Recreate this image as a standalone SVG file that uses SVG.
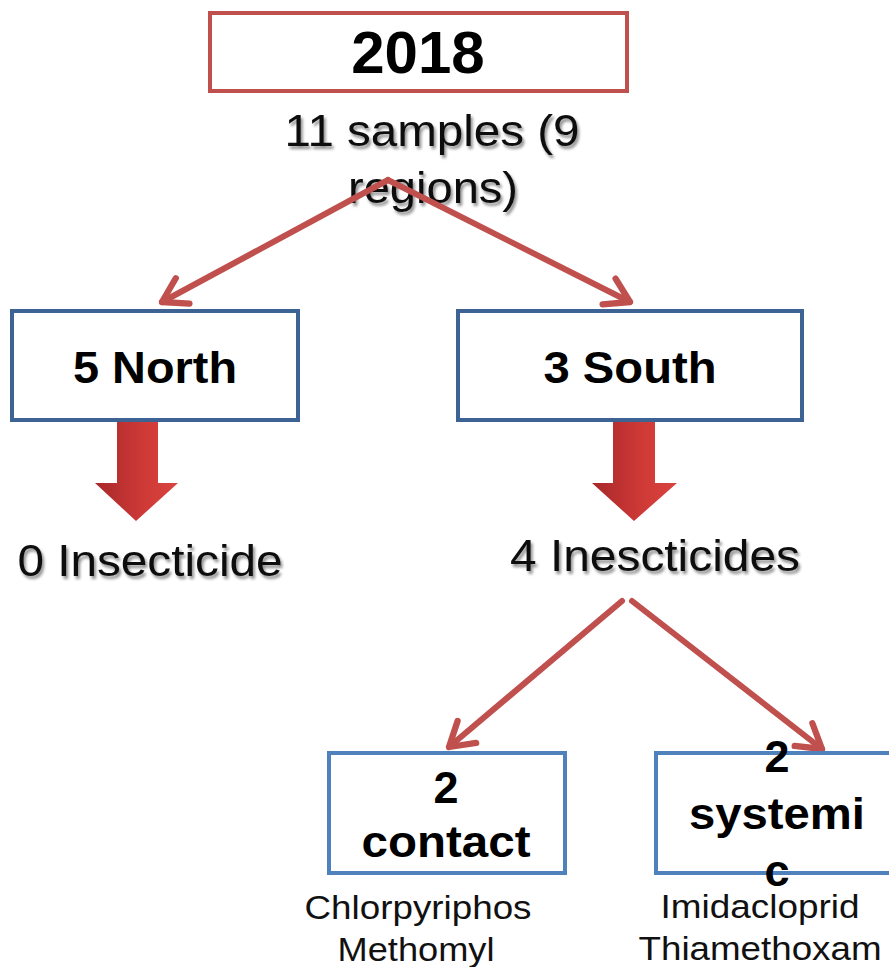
<svg xmlns="http://www.w3.org/2000/svg" width="889" height="967" viewBox="0 0 889 967">
<defs>
<style>
.red{fill:none;stroke:#c0504d;stroke-width:4}
.dblue{fill:#fff;stroke:#3d6394;stroke-width:4}
.lblue{fill:#fff;stroke:#4f81bd;stroke-width:4}
.conn{fill:none;stroke:#c0504d;stroke-width:6;stroke-linecap:round}
.b{font-family:"Liberation Sans",Arial,sans-serif;font-weight:bold;fill:#000;text-anchor:middle}
.t{font-family:"Liberation Sans",Arial,sans-serif;fill:#111;text-anchor:middle}
.sh{filter:url(#shadow)}
</style>
<filter id="shadow" x="-10%" y="-20%" width="120%" height="150%">
<feGaussianBlur in="SourceAlpha" stdDeviation="1.5"/>
<feOffset dx="2" dy="3" result="o"/>
<feComponentTransfer><feFuncA type="linear" slope="0.45"/></feComponentTransfer>
<feMerge><feMergeNode/><feMergeNode in="SourceGraphic"/></feMerge>
</filter>
<linearGradient id="blk" x1="0" y1="0" x2="1" y2="0">
<stop offset="0" stop-color="#a8282a"/>
<stop offset="0.6" stop-color="#cf3a37"/>
<stop offset="1" stop-color="#d94440"/>
</linearGradient>
<marker id="chev" viewBox="0 0 20 20" refX="15" refY="10" markerWidth="6" markerHeight="6" markerUnits="strokeWidth" orient="auto">
<path d="M2,2 L15,10 L2,18" fill="none" stroke="#c0504d" stroke-width="3.5" stroke-linecap="round" stroke-linejoin="round"/>
</marker>
</defs>

<g id="node-2018">
<rect class="red" x="210" y="13" width="417" height="78" fill="#fff"/>
<text class="b" x="418" y="73" font-size="60">2018</text>
</g>

<g id="node-samples">
<text class="t sh" x="432" y="146" font-size="45" textLength="295" lengthAdjust="spacingAndGlyphs">11 samples (9</text>
<text class="t sh" x="433" y="203" font-size="45" textLength="170" lengthAdjust="spacingAndGlyphs">regions)</text>
</g>

<g id="node-zero">
<text class="t sh" x="150" y="576" font-size="45" textLength="265" lengthAdjust="spacingAndGlyphs">0 Insecticide</text>
</g>

<g id="node-four">
<text class="t sh" x="655" y="571" font-size="45" textLength="290" lengthAdjust="spacingAndGlyphs">4 Inescticides</text>
</g>

<g id="connectors">
<line class="conn" x1="388" y1="180" x2="162" y2="302" marker-end="url(#chev)"/>
<line class="conn" x1="388" y1="180" x2="630" y2="302" marker-end="url(#chev)"/>
<line class="conn" x1="622" y1="601" x2="449" y2="747" marker-end="url(#chev)"/>
<line class="conn" x1="632" y1="601" x2="822" y2="749" marker-end="url(#chev)"/>
<path id="blockN" d="M117,420 L158,420 L158,483 L178,483 L136,521 L95,483 L117,483 Z" fill="url(#blk)"/>
<path id="blockS" d="M613,420 L655,420 L655,483 L677,483 L634,521 L592,483 L613,483 Z" fill="url(#blk)"/>
</g>

<g id="node-north">
<rect class="dblue" x="12" y="311" width="286" height="109"/>
<text class="b" x="155" y="383" font-size="45" textLength="164" lengthAdjust="spacingAndGlyphs">5 North</text>
</g>

<g id="node-south">
<rect class="dblue" x="458" y="311" width="344" height="109"/>
<text class="b" x="630" y="383" font-size="45" textLength="173" lengthAdjust="spacingAndGlyphs">3 South</text>
</g>

<g id="node-contact">
<rect class="lblue" x="329" y="753" width="236" height="120"/>
<text class="b" x="446" y="803" font-size="45">2</text>
<text class="b" x="446" y="857" font-size="45" textLength="169" lengthAdjust="spacingAndGlyphs">contact</text>
<text class="t" x="418" y="919" font-size="34" textLength="227" lengthAdjust="spacingAndGlyphs">Chlorpyriphos</text>
<text class="t" x="416" y="961" font-size="34" textLength="157" lengthAdjust="spacingAndGlyphs">Methomyl</text>
</g>

<g id="node-systemic">
<rect class="lblue" x="656" y="753" width="240" height="120"/>
<text class="b" x="777" y="772" font-size="45">2</text>
<text class="b" x="777" y="829" font-size="45" textLength="176" lengthAdjust="spacingAndGlyphs">systemi</text>
<text class="b" x="777" y="886" font-size="45">c</text>
<text class="t" x="760" y="918" font-size="34" textLength="199" lengthAdjust="spacingAndGlyphs">Imidacloprid</text>
<text class="t" x="760" y="960" font-size="34" textLength="243" lengthAdjust="spacingAndGlyphs">Thiamethoxam</text>
</g>
</svg>
